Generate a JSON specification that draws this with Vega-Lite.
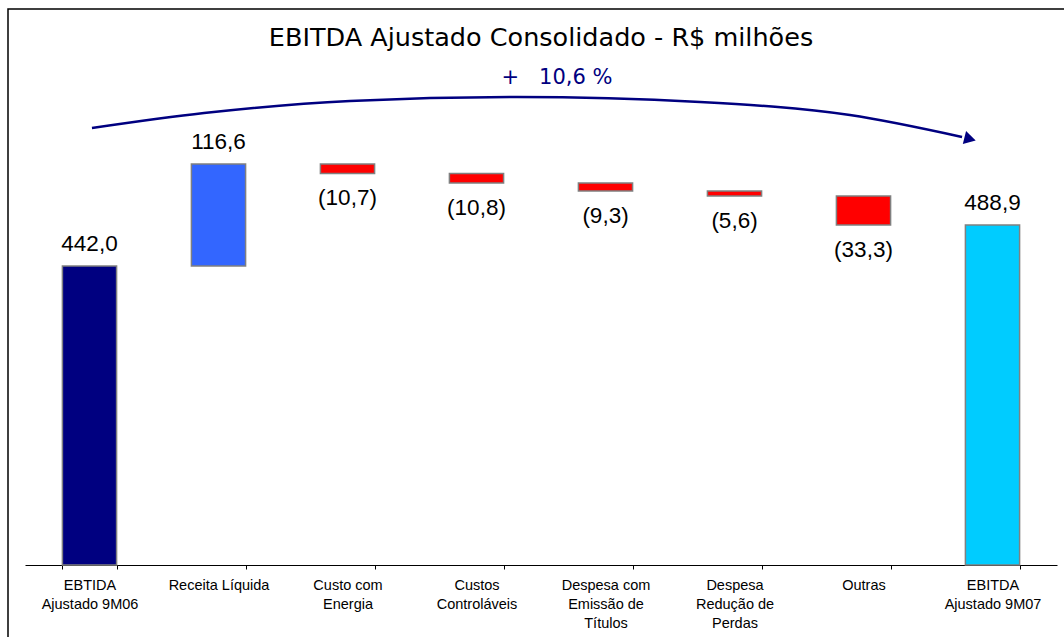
{
  "$schema": "https://vega.github.io/schema/vega-lite/v6.json",
  "width": 1060,
  "height": 640,
  "padding": {"left": 8, "top": 9, "right": 0, "bottom": 0},
  "autosize": {"type": "pad"},
  "background": "white",
  "config": {
    "view": {"stroke": "#000000", "strokeWidth": 1.5},
    "axis": {"grid": false}
  },
  "layer": [
    {
      "data": {
        "values": [
          {"cat": "EBTIDA|Ajustado 9M06", "start": 100, "end": 442.0, "label": "442,0", "kind": "ini"},
          {"cat": "Receita Líquida", "start": 442.0, "end": 558.6, "label": "116,6", "kind": "up"},
          {"cat": "Custo com|Energia", "start": 558.6, "end": 547.9, "label": "(10,7)", "kind": "down"},
          {"cat": "Custos|Controláveis", "start": 547.9, "end": 537.1, "label": "(10,8)", "kind": "down"},
          {"cat": "Despesa com|Emissão de|Títulos", "start": 537.1, "end": 527.8, "label": "(9,3)", "kind": "down"},
          {"cat": "Despesa|Redução de|Perdas", "start": 527.8, "end": 522.2, "label": "(5,6)", "kind": "down"},
          {"cat": "Outras", "start": 522.2, "end": 488.9, "label": "(33,3)", "kind": "down"},
          {"cat": "EBITDA|Ajustado 9M07", "start": 100, "end": 488.9, "label": "488,9", "kind": "fim"}
        ]
      },
      "encoding": {
        "x": {
          "field": "cat",
          "type": "nominal",
          "sort": null,
          "scale": {"range": [17, 1049], "paddingInner": 0.58, "paddingOuter": 0.29},
          "axis": {
            "title": null,
            "orient": "bottom",
            "offset": -84,
            "labelAngle": 0,
            "labelExpr": "split(datum.label, '|')",
            "labelFont": "Liberation Sans",
            "labelFontSize": 14.5,
            "labelColor": "#000000",
            "labelLineHeight": 19,
            "labelPadding": 9,
            "labelBaseline": "top",
            "labelLimit": 300,
            "domainColor": "#000000",
            "domainWidth": 1,
            "tickColor": "#000000",
            "tickSize": 4,
            "tickBand": "extent"
          }
        },
        "y": {
          "field": "end",
          "type": "quantitative",
          "scale": {"domain": [100, 736], "range": [556, 0], "zero": false, "nice": false},
          "axis": null
        }
      },
      "layer": [
        {
          "mark": {"type": "bar", "stroke": "#808080", "strokeWidth": 1.5},
          "encoding": {
            "y": {"field": "start", "type": "quantitative"},
            "y2": {"field": "end"},
            "color": {
              "field": "kind",
              "type": "nominal",
              "scale": {"domain": ["ini", "up", "down", "fim"], "range": ["#000080", "#3366ff", "#ff0000", "#00ccff"]},
              "legend": null
            }
          }
        },
        {
          "transform": [{"filter": "datum.kind != 'down'"}],
          "mark": {"type": "text", "dy": -22, "fontSize": 22.5, "font": "Liberation Sans", "color": "#000000", "baseline": "middle"},
          "encoding": {"text": {"field": "label"}}
        },
        {
          "transform": [{"filter": "datum.kind == 'down'"}],
          "mark": {"type": "text", "dy": 25, "fontSize": 22.5, "font": "Liberation Sans", "color": "#000000", "baseline": "middle"},
          "encoding": {"text": {"field": "label"}}
        }
      ]
    },
    {
      "layer": [
        {
          "data": {
            "values": [
              {"q": 0.519, "v": 599.9},
              {"q": 1.388, "v": 617.0},
              {"q": 2.519, "v": 630.8},
              {"q": 3.814, "v": 635.3},
              {"q": 5.233, "v": 629.6},
              {"q": 6.395, "v": 614.7},
              {"q": 7.264, "v": 589.6}
            ]
          },
          "mark": {"type": "line", "interpolate": "monotone", "color": "#000080", "strokeWidth": 2.5},
          "encoding": {
            "x": {"field": "q", "type": "quantitative", "scale": {"domain": [0, 8], "range": [17, 1049], "nice": false, "zero": false}, "axis": null},
            "y": {"field": "v", "type": "quantitative", "scale": {"domain": [100, 736], "range": [556, 0], "zero": false, "nice": false}, "axis": null}
          }
        },
        {
          "data": {"values": [{"q": 7.326, "v": 587.3}]},
          "mark": {"type": "point", "shape": "triangle-right", "filled": true, "color": "#000080", "opacity": 1, "size": 180, "angle": 14},
          "encoding": {
            "x": {"field": "q", "type": "quantitative"},
            "y": {"field": "v", "type": "quantitative"}
          }
        },
        {
          "data": {"values": [{"q": 4.0, "v": 702.8, "t": "EBITDA Ajustado Consolidado - R$ milhões"}]},
          "mark": {"type": "text", "font": "DejaVu Sans", "fontSize": 25.5, "color": "#000000", "baseline": "middle"},
          "encoding": {
            "x": {"field": "q", "type": "quantitative"},
            "y": {"field": "v", "type": "quantitative"},
            "text": {"field": "t"}
          }
        },
        {
          "data": {"values": [{"q": 4.124, "v": 657.0, "t": "+\u00a0\u00a0\u00a010,6\u00a0%"}]},
          "mark": {"type": "text", "font": "DejaVu Sans", "fontSize": 21, "color": "#000080", "baseline": "middle"},
          "encoding": {
            "x": {"field": "q", "type": "quantitative"},
            "y": {"field": "v", "type": "quantitative"},
            "text": {"field": "t"}
          }
        }
      ]
    }
  ],
  "resolve": {"scale": {"x": "independent"}, "axis": {"x": "independent"}}
}
